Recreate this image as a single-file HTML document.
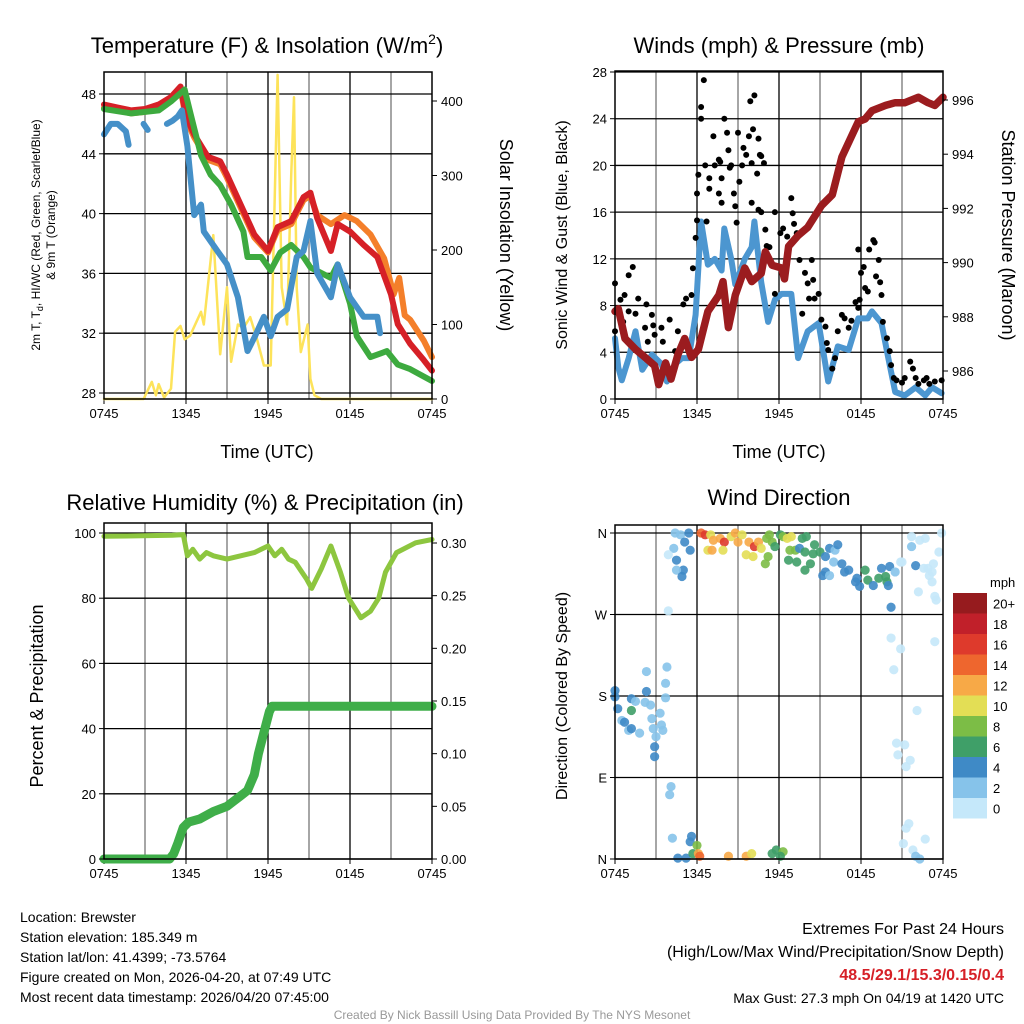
<!DOCTYPE html>
<html><head><meta charset="utf-8">
<style>
body{margin:0;background:#fff;}
svg{display:block;font-family:"Liberation Sans",sans-serif;}
</style></head>
<body>
<svg id="c" width="1024" height="1024" viewBox="0 0 1024 1024"></svg>
<script>
// ---------- data ----------
const timeTicks = ["0745","1345","1945","0145","0745"];
const tempTicks = [28,32,36,40,44,48];
const solTicks = [0,100,200,300,400];
const windTicks = [0,4,8,12,16,20,24,28];
const presTicks = [986,988,990,992,994,996];
const rhTicks = [0,20,40,60,80,100];
const precTicks = ["0.00","0.05","0.10","0.15","0.20","0.25","0.30"];
const dirLabels = ["N","E","S","W","N"];
const speedBins = ["0","2","4","6","8","10","12","14","16","18","20+"];

const redT = [0,1,2,3,4,4.9,5.6,6,6.6,7.6,8.5,9,10.2,11,12,12.7,13.7,14.6,15.1,15.6,16.6,17.1,18,19,20,21,21.5,22.4,23.4,24];
const redV = [47.3,47.1,46.9,47.0,47.3,47.8,48.5,46.5,45.3,43.8,43.5,42.6,40.2,38.6,37.5,39.1,39.5,41.1,41.4,39.7,37.5,39.3,38.8,37.9,37.1,34.6,32.6,31.3,30.2,29.5];
const orangeT = [0,1,2,3,4,4.9,5.6,6,6.6,7.6,8.5,9,10.2,11,12,12.7,13.7,14.6,15.1,15.6,16.6,17.6,18.5,19.5,20.5,21.2,21.6,22,22.4,23.4,24];
const orangeV = [47.1,46.9,46.7,46.8,47.1,47.7,48.4,46.3,45.1,43.6,43.3,42.4,40.0,38.4,37.4,38.9,39.3,40.9,41.2,39.9,39.3,39.9,39.5,38.6,37.0,34.6,35.7,33.2,32.9,31.5,30.4];
const greenT = [0,2,4,4.9,5.9,6.3,7.1,7.8,8.5,9.3,10.2,10.5,11.5,12.2,12.9,13.7,14.6,15.1,16.6,17.1,18,18.5,19.5,20.7,21.5,22.4,24];
const greenV = [47.0,46.7,46.9,47.5,48.3,46.8,43.9,42.6,41.9,40.6,38.8,37.1,37.1,36.2,37.4,37.9,37.1,36.4,35.7,36.6,34.0,31.8,30.4,30.8,29.9,29.6,28.8];
const blueT = [0,0.5,1,1.6,1.8,1.9,2.9,3.2,3.4,4.6,5,5.4,5.7,6.1,6.6,7.1,7.3,8.3,9,9.8,10.5,11,11.7,12.2,12.7,13.4,14.1,14.6,15.1,15.6,16.6,17.1,18,19,20,20.2];
const blueV = [45.3,46.0,46.0,45.5,44.6,NaN,46.0,45.6,NaN,46.0,46.2,46.5,46.9,44.5,39.9,40.6,38.8,37.5,36.6,34.4,30.8,31.7,33.1,31.8,33.1,33.6,37.1,37.5,39.5,36.0,34.4,36.6,34.4,33.1,33.1,32.0];
const solT = [0,2.9,3.5,3.8,4.0,4.4,4.9,5.2,5.6,5.9,6.3,7.1,7.3,8.0,8.5,9.0,9.3,9.8,10.2,10.7,11.2,11.7,12.2,12.4,12.7,13.0,13.4,13.7,13.9,14.1,14.4,14.9,15.1,15.4,15.9,24];
const solV = [0,0,23,5,20,2,14,90,98,80,85,117,100,220,60,150,50,100,95,110,80,45,45,200,435,150,100,300,405,150,63,100,27,5,0,0];

const windT = [0,.24,.5,1,1.5,2,2.7,3.4,3.8,4.4,4.9,5.4,5.9,6.3,6.8,7.3,7.8,8,8.5,8.8,9.5,10,10.2,10.7,11.2,11.7,12.2,12.9,13.4,14.1,14.9,15.6,16.3,17.1,17.8,18.5,18.8,19.5,20,20.5,21.2,22,22.7,23.2,23.9];
const windV = [5.2,2.7,1.6,3.5,5.8,2.5,3.8,3.0,1.5,3.0,3.5,3.5,7.2,15.2,11.5,12.0,11.0,14.6,12.0,9.8,12.0,13.0,15.2,10.0,6.6,8.5,9.0,9.0,3.5,5.8,6.5,1.5,4.5,4.2,6.9,6.9,7.5,6.5,3.5,0.6,0.3,1.0,0.3,1.0,0.5];
const presT = [0,.24,.73,1.5,2.2,2.9,3.2,3.7,4.1,4.6,5.1,5.6,6.1,6.8,7.6,7.9,8.3,8.8,9.5,10,10.7,11,11.5,12.2,12.4,12.7,13.4,14.1,15.1,15.9,16.6,17.8,18.3,18.8,19.8,20.5,21.2,22.2,22.9,23.4,24];
const presV = [988.2,988.3,987.2,986.8,986.5,986.2,985.5,986.3,985.7,986.6,987.2,986.5,986.8,988.2,988.8,989.3,987.6,988.8,989.8,989.3,989.6,990.4,989.9,989.8,989.4,990.6,991.0,991.3,992.1,992.5,993.9,995.2,995.3,995.6,995.8,995.9,995.9,996.1,995.9,995.8,996.1];
const gustT = [0,0,.4,.7,1,1.3,1,1.5,.6,1.7,2.2,2.3,2.4,2.7,2.8,2.9,3.4,3.5,4,4.4,4.6,5,5.2,5.6,5.7,5.9,6,6.1,6.3,6.5,6.3,6,6.6,6.7,6.9,7.2,6.9,7.3,7.6,7.7,7.8,7.6,7.8,8,8.2,8.3,8.4,8.5,8.7,8.8,8.9,9,9.1,9.3,9.4,9.6,9.8,9.9,10,10.1,10.2,10.4,10.5,10.6,10.7,10.9,10,10.5,10.7,11,11.1,11.3,11.7,11.7,12.1,12.3,12.6,12.9,13,13.1,13.3,13.5,13.7,13.9,14.1,14.4,14.5,14.6,14.2,14.9,15.1,15.4,15.5,15.6,15.9,16.1,16.3,16.6,16.8,17.1,17.3,17.6,17.8,17.9,18,18.2,17.8,18.3,18.5,18.6,18.9,19,19.1,19.3,19.4,19.5,19.6,19.9,20.1,20.2,20.4,20.6,21,21.2,21.6,21.8,22,22.2,22.6,22.8,23,23.4,23.9];
const gustV = [9.9,5.8,8.5,8.9,10.6,11.3,7.5,7.3,6.6,8.6,6.1,8.1,4.9,7.2,6.3,5.5,6.1,4.9,6.8,4.1,5.8,8.1,8.6,8.9,11.2,13.8,15.3,19.2,25,27.3,24,17.6,20,15.2,18.9,22.5,18,20,20.5,20.3,18.9,17.6,16.8,24,22.8,21.3,19.8,20,17.6,16.5,15.1,22.8,18.6,20,21.5,20.9,22.5,25.5,20.2,23.1,26,19.3,22.3,20.9,20.8,20.2,16.8,16.2,16,14.5,13.1,13,16,9,14.2,14.6,13.9,17.2,15.9,15,14.2,11.9,7.3,10.8,9.9,11.9,10.2,8.6,8.6,9,6.8,6.2,4.8,4.2,2.6,3.5,5.8,7.2,6.9,6.1,6.7,8.3,7.8,8.5,10.8,11.3,12.8,9.5,9.2,12.8,13.6,13.4,10.5,11.9,10,8.9,6.6,5.2,4.1,2.9,1.8,1.6,1.4,1.8,3.2,2.6,1.8,1.3,1.6,1.8,1.3,1.5,1.6];

const rhT = [0,5,5.8,6.1,6.5,7,7.5,8,9,10,11,11.5,12,12.5,13,13.5,14,14.8,15.2,15.9,16.6,17.3,17.9,18.8,19.5,20.1,20.6,21.4,22.8,24];
const rhV = [99,99.3,99.5,93,95,92,94,93,92,93,94,95,96,93,95,92,91,86,83,89,96,88,80,74,76,80,88,94,97,98];
const precT = [0,4.8,5.1,5.4,5.8,6.2,7,8,9,9.5,10,10.5,11,11.3,11.6,11.9,12.1,12.3,24];
const precV = [0,0,0.005,0.015,0.03,0.035,0.038,0.045,0.05,0.055,0.06,0.065,0.08,0.10,0.115,0.13,0.14,0.145,0.145];

const dirT = [0,0,.2,.5,.7,1,1.2,1.2,1.5,1.8,2.2,2.3,2.3,2.6,2.7,2.8,2.9,2.9,3,3.3,3.4,3.5,3.7,3.7,3.8,1.2,
 4.1,4,4.2,4.6,5.2,5.5,5.6,5.7,6,6.1,6.2,8.3,9.6,10,11.5,11.8,12.3,12.1,
 4.4,4.8,5.4,5.1,5.5,4.3,3.9,4.5,5,4.5,4.9,3.9,
 6.3,6.6,7,7.2,6.8,7.1,7.7,8,7.9,8.5,8.8,9,9.3,9.6,10.1,9.8,10.2,10.5,10.7,11.1,11.3,11.5,11.7,11.2,11,12.1,12.3,12.6,12.9,12.8,12.7,13.2,13.3,13.5,13.7,14,13.9,14.3,13.9,14.6,14.5,15,15.4,15.7,16.1,16.3,16,16.6,15.4,15.2,15.7,16.8,17.1,17.6,17.7,17.9,18.3,18.5,18.9,19.3,19.5,19.8,19.9,20,20.1,20.2,20.5,20.9,21,21.7,21.7,22,22.7,22.3,22.6,22.9,23.2,23.3,23,23.2,22.2,23.4,23.5,23.7,23.9,
 20.2,20.9,20.4,23.4,22.1,20.6,21.2,20.7,21.6,21.3,21.5,21.3,21.1,22.7,21.8,22,22.3];
const dirD = [186,179,166,153,151,142,144,177,174,139,173,207,185,170,155,144,124,113,135,161,148,142,178,194,212,164,
 80,71,23,1,1,19,25,6,15,6,3,3,3,6,6,10,8,3,
 360,358,360,350,341,343,336,330,319,319,312,274,
 360,358,358,352,341,341,354,350,341,356,360,350,358,336,334,350,345,350,343,354,358,350,345,334,326,358,356,354,356,341,330,341,328,343,354,356,339,326,319,347,337,339,334,343,341,347,328,326,317,313,313,317,319,306,310,301,319,308,302,310,321,312,306,302,323,278,317,328,328,356,345,324,354,352,321,321,317,326,313,306,295,290,286,339,360,
 244,232,209,240,164,128,126,115,109,102,39,34,17,22,10,3,0];
const dirS = [4,4,4,2,4,2,4,4,2,2,2,2,4,2,2,2,4,4,2,2,2,2,2,2,2,6,
 2,2,2,4,4,4,4,6,8,12,14,12,12,10,6,6,8,6,
 2,2,4,4,4,2,0,4,4,2,4,0,
 14,16,10,12,10,12,12,16,10,10,12,12,10,10,10,12,16,12,10,8,8,8,6,8,8,6,8,10,10,8,6,8,6,4,6,6,6,6,6,6,6,6,4,4,2,4,2,4,4,4,2,4,4,4,4,4,6,6,4,6,4,6,6,4,4,4,2,0,0,0,2,4,0,0,0,0,0,0,0,0,0,0,0,0,0,
 0,0,0,0,0,0,0,0,0,0,0,0,0,0,0,2,2];

// ---------- helpers ----------
const svg = document.getElementById('c');
const NS = 'http://www.w3.org/2000/svg';
const speedColors = ["#c5e8fa","#86c3ea","#3f8ac6","#3f9f68","#7cbd46","#e3de55","#f7a947","#ee662e","#de3a2c","#c1202a","#961b1e"];
function mk(tag, attrs, parent){
  const e = document.createElementNS(NS, tag);
  for (const k in attrs) e.setAttribute(k, attrs[k]);
  (parent||svg).appendChild(e);
  return e;
}
function txt(x,y,s,size,anchor,extra){
  const e = mk('text',Object.assign({x:x,y:y,'font-size':size,'text-anchor':anchor||'middle',fill:'#000'},extra||{}));
  e.textContent = s;
  return e;
}
function lin(d0,d1,r0,r1){return v => r0 + (v-d0)/(d1-d0)*(r1-r0);}
function pathOf(T,V,xs,ys){
  let d='',pen=false;
  for(let i=0;i<T.length;i++){
    if(isNaN(V[i])){pen=false;continue;}
    d += (pen?'L':'M') + xs(T[i]).toFixed(1) + ' ' + ys(V[i]).toFixed(1);
    pen=true;
  }
  return d;
}
const X0=104, X1=432, X2=615, X3=943;

function frame(x0,x1,y0,y1,hLines,name){
  for(let h=3;h<24;h+=3){
    const x = x0 + h/24*(x1-x0);
    const l = mk('line',{x1:x,x2:x,y1:y0,y2:y1,stroke:(h%6===0)?'#000':'#777','stroke-width':1.3});
    
    
  }
  hLines.forEach(y=>{
    const l = mk('line',{x1:x0,x2:x1,y1:y,y2:y,stroke:'#000','stroke-width':1.3});
    
    
  });
  timeTicks.forEach((t,i)=>{
    const x = x0 + i/4*(x1-x0);
    const tk = mk('line',{x1:x,x2:x,y1:y1,y2:y1+5,stroke:'#000','stroke-width':1});
    
    
    const tl = txt(x,y1+19,t,13);
    
    
  });
}
function border(x0,x1,y0,y1,name){
  const r = mk('rect',{x:x0,y:y0,width:x1-x0,height:y1-y0,fill:'none',stroke:'#000','stroke-width':1.5});
  
  
}
function yTicks(vals,labels,ys,x,side,name){
  vals.forEach((v,i)=>{
    const y=ys(v);
    const tk = mk('line',{x1:x,x2:x+(side==='left'?-5:5),y1:y,y2:y,stroke:'#000','stroke-width':1});
    
    
    const tl = txt(side==='left'?x-8:x+9,y+5,String(labels[i]),13,side==='left'?'end':'start');
    
    
  });
}
function line(T,V,xs,ys,color,w,name){
  const p = mk('path',{d:pathOf(T,V,xs,ys),fill:'none',stroke:color,'stroke-width':w,'stroke-linejoin':'round','stroke-linecap':'round'});
  
  
}

// ---------- panel 1: temperature ----------
{
  const Y0=72,Y1=399;
  const xs = lin(0,24,X0,X1);
  const ys = lin(48,28,94,393);
  const ss = lin(0,400,399,101);
  frame(X0,X1,Y0,Y1,tempTicks.map(ys),'temp');
  line(solT,solV,xs,ss,'#fde35a',2.5,'insolation-line');
  line(orangeT,orangeV,xs,ys,'#f47f2a',6,'temp-9m-line');
  line(redT,redV,xs,ys,'#d62027',6,'temp-2m-line');
  line(greenT,greenV,xs,ys,'#3daa3f',6,'dewpoint-line');
  line(blueT,blueV,xs,ys,'#4590c8',6,'hi-wc-line');
  border(X0,X1,Y0,Y1,'temp');
  yTicks(tempTicks,tempTicks,ys,X0,'left','temp-y');
  yTicks(solTicks,solTicks,ss,X1,'right','sol-y');
  let t = txt(267,53,'Temperature (F) & Insolation (W/m',22);  
  const sp = mk('tspan',{'font-size':14,dy:-9},t); sp.textContent='2';
  const sp2 = mk('tspan',{'font-size':22,dy:9},t); sp2.textContent=')';
  t = txt(267,458,'Time (UTC)',18);  
  t = txt(0,0,'',12,'middle',{transform:'translate(40,235) rotate(-90)'});
   
  t.innerHTML = '2m T, T<tspan font-size="9" dy="3">d</tspan><tspan dy="-3">, HI/WC (Red, Green, Scarlet/Blue)</tspan>';
  t = txt(0,0,'& 9m T (Orange)',12,'middle',{transform:'translate(55,235) rotate(-90)'});
   
  t = txt(0,0,'Solar Insolation (Yellow)',18,'middle',{transform:'translate(500,235) rotate(90)'});
   
}

// ---------- panel 2: winds ----------
{
  const Y0=71,Y1=399;
  const xs = lin(0,24,X2,X3);
  const ys = lin(0,28,399,72);
  const ps = lin(986,996,371,100);
  frame(X2,X3,Y0,Y1,windTicks.map(ys),'wind');
  line(windT,windV,xs,ys,'#4c96d0',6,'wind-speed-line');
  gustT.forEach((h,i)=>{
    const c = mk('circle',{cx:xs(h),cy:ys(gustV[i]),r:3,fill:'#000'});
    
    
  });
  line(presT,presV,xs,ps,'#9b1c1f',7.5,'pressure-line');
  border(X2,X3,Y0,Y1,'wind');
  yTicks(windTicks,windTicks,ys,X2,'left','wind-y');
  yTicks(presTicks,presTicks,ps,X3,'right','pres-y');
  let t = txt(779,53,'Winds (mph) & Pressure (mb)',22);  
  t = txt(779,458,'Time (UTC)',18);  
  t = txt(0,0,'Sonic Wind & Gust (Blue, Black)',16,'middle',{transform:'translate(567,235) rotate(-90)'});
   
  t = txt(0,0,'Station Pressure (Maroon)',18,'middle',{transform:'translate(1002,235) rotate(90)'});
   
}

// ---------- panel 3: RH & precip ----------
{
  const Y0=523,Y1=859;
  const xs = lin(0,24,X0,X1);
  const ys = lin(0,100,859,533);
  const qs = lin(0,0.30,859,543);
  frame(X0,X1,Y0,Y1,rhTicks.map(ys),'rh');
  line(precT,precV,xs,qs,'#3fae49',9,'precip-line');
  line(rhT,rhV,xs,ys,'#8dc63f',5,'rh-line');
  border(X0,X1,Y0,Y1,'rh');
  yTicks(rhTicks,rhTicks,ys,X0,'left','rh-y');
  yTicks(precTicks.map(Number),precTicks,qs,X1,'right','precip-y');
  let t = txt(265,510,'Relative Humidity (%) & Precipitation (in)',22);  
  t = txt(0,0,'Percent & Precipitation',18,'middle',{transform:'translate(43,696) rotate(-90)'});
   
}

// ---------- panel 4: wind direction ----------
{
  const Y0=525,Y1=859;
  const xs = lin(0,24,X2,X3);
  const ds = lin(0,360,859,533);
  frame(X2,X3,Y0,Y1,[0,90,180,270,360].map(ds),'dir');
  dirT.forEach((h,i)=>{
    const bin = Math.min(10,Math.max(0,Math.floor(dirS[i]/2)));
    const c = mk('circle',{cx:xs(h),cy:ds(dirD[i]),r:4.6,fill:speedColors[bin],'fill-opacity':0.9});
    
    
  });
  border(X2,X3,Y0,Y1,'dir');
  yTicks([0,90,180,270,360],dirLabels,ds,X2,'left','dir-y');
  let t = txt(779,505,'Wind Direction',22);  
  t = txt(0,0,'Direction (Colored By Speed)',16,'middle',{transform:'translate(567,696) rotate(-90)'});
   
  const cbTop=593, cbH=20.5;
  speedBins.forEach((lab,i)=>{
    const y = cbTop + (10-i)*cbH;
    const r = mk('rect',{x:953,y:y,width:34,height:cbH,fill:speedColors[i]});
    
    
    const l = txt(993,y+cbH/2+5,lab,13,'start');
    
    
  });
  t = txt(990,587,'mph',13,'start');  
}

// ---------- footer ----------
{
  const left = ["Location: Brewster","Station elevation: 185.349 m","Station lat/lon: 41.4399; -73.5764","Figure created on Mon, 2026-04-20, at 07:49 UTC","Most recent data timestamp: 2026/04/20 07:45:00"];
  left.forEach((s,i)=>{
    const t = txt(20,922+i*20,s,14,'start');
    
    
  });
  let t = txt(1004,934,'Extremes For Past 24 Hours',16,'end');  
  t = txt(1004,957,'(High/Low/Max Wind/Precipitation/Snow Depth)',16,'end');  
  t = txt(1004,980,'48.5/29.1/15.3/0.15/0.4',16,'end',{fill:'#d62027','font-weight':'bold'});  
  t = txt(1004,1003,'Max Gust: 27.3 mph On 04/19 at 1420 UTC',14,'end');  
  t = txt(512,1019,'Created By Nick Bassill Using Data Provided By The NYS Mesonet',12,'middle',{fill:'#999'});  
}
</script>
</body></html>
